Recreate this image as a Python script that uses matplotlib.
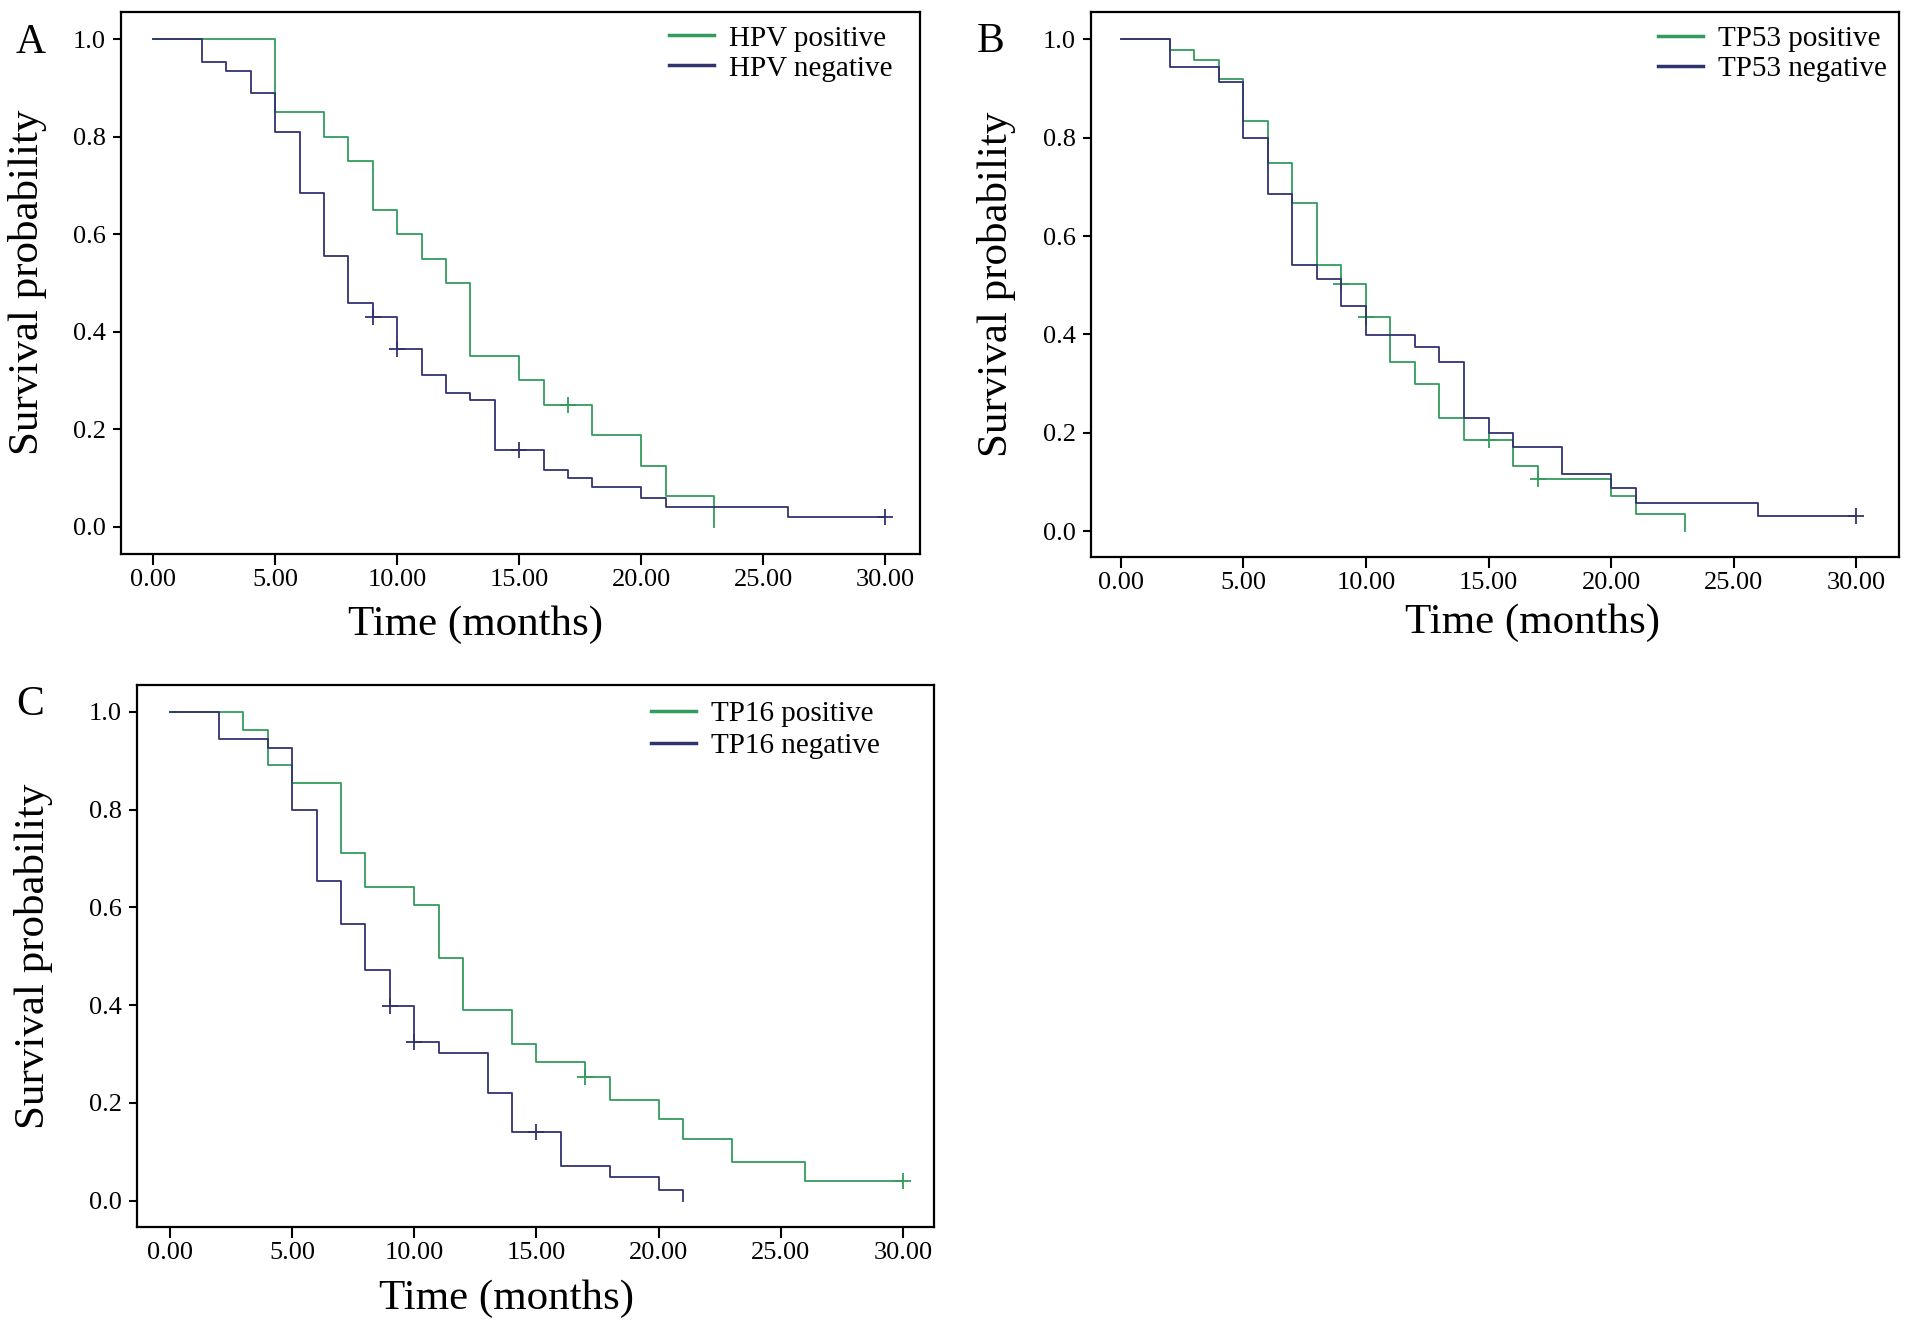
import numpy as np
import matplotlib
matplotlib.use("Agg")
import matplotlib.pyplot as plt

plt.rcParams['font.family'] = ['Liberation Serif', 'DejaVu Serif']

GREEN = '#339c5c'
NAVY = '#31336f'

# ---- panel A : HPV ----
hpv_pos_t = [0, 5, 7, 8, 9, 10, 11, 12, 13, 15, 16, 18, 20, 21, 23]
hpv_pos_s = [1.0, 0.85, 0.80, 0.75, 0.65, 0.60, 0.55, 0.50, 0.35, 0.30, 0.25, 0.1875, 0.125, 0.0625, 0.0]
hpv_pos_end = 23
hpv_pos_cens = [17]

hpv_neg_t = [0, 2, 3, 4, 5, 6, 7, 8, 9, 10, 11, 12, 13, 14, 16, 17, 18, 20, 21, 26]
hpv_neg_s = [1.0, 0.952, 0.934, 0.89, 0.81, 0.684, 0.555, 0.459, 0.43, 0.364, 0.311, 0.275, 0.26,
             0.158, 0.116, 0.099, 0.081, 0.059, 0.040, 0.021]
hpv_neg_end = 30
hpv_neg_cens = [9, 10, 15, 30]

# ---- panel B : TP53 ----
tp53_pos_t = [0, 2, 3, 4, 5, 6, 7, 8, 9, 10, 11, 12, 13, 14, 16, 17, 20, 21, 23]
tp53_pos_s = [1.0, 0.978, 0.958, 0.92, 0.833, 0.749, 0.668, 0.542, 0.503, 0.436, 0.344, 0.299, 0.230,
              0.185, 0.132, 0.105, 0.072, 0.034, 0.0]
tp53_pos_end = 23
tp53_pos_cens = [9, 10, 15, 17]

tp53_neg_t = [0, 2, 4, 5, 6, 7, 8, 9, 10, 12, 13, 14, 15, 16, 18, 20, 21, 26]
tp53_neg_s = [1.0, 0.944, 0.914, 0.80, 0.686, 0.542, 0.513, 0.457, 0.399, 0.374, 0.344, 0.230, 0.20,
              0.171, 0.115, 0.087, 0.056, 0.030]
tp53_neg_end = 30
tp53_neg_cens = [30]

# ---- panel C : TP16 ----
tp16_pos_t = [0, 3, 4, 5, 7, 8, 10, 11, 12, 14, 15, 17, 18, 20, 21, 23, 26]
tp16_pos_s = [1.0, 0.962, 0.892, 0.854, 0.712, 0.642, 0.605, 0.497, 0.391, 0.32, 0.284, 0.252, 0.206,
              0.166, 0.126, 0.080, 0.040]
tp16_pos_end = 30
tp16_pos_cens = [17, 30]

tp16_neg_t = [0, 2, 4, 5, 6, 7, 8, 9, 10, 11, 13, 14, 16, 18, 20, 21]
tp16_neg_s = [1.0, 0.944, 0.927, 0.80, 0.653, 0.565, 0.472, 0.399, 0.324, 0.302, 0.221, 0.140, 0.071,
              0.049, 0.022, 0.0]
tp16_neg_end = 21
tp16_neg_cens = [9, 10, 15]

xticks = [0, 5, 10, 15, 20, 25, 30]
yticks = [0.0, 0.2, 0.4, 0.6, 0.8, 1.0]


def km(ax, t, s, end, cens, color, label):
    tt = list(t) + [end]
    ss = list(s) + [s[-1]]
    ax.step(tt, ss, where='post', color=color, lw=1.3, label=label)
    ta = np.array(t)
    cy = [s[np.searchsorted(ta, c, side='right') - 1] for c in cens]
    ax.plot(cens, cy, ls='none', marker='+', ms=11, mew=1.3, color=color)


def style(ax, xlim, ylim, ylab_x, xlab_pos):
    ax.set_xlim(*xlim)
    ax.set_ylim(*ylim)
    ax.set_xticks(xticks)
    ax.set_xticklabels(['%.2f' % v for v in xticks])
    ax.set_yticks(yticks)
    ax.set_yticklabels(['%.1f' % v for v in yticks])
    for sp in ax.spines.values():
        sp.set_linewidth(1.6)
    ax.tick_params(axis='x', direction='out', length=8, width=1.5, labelsize=19, pad=3)
    ax.tick_params(axis='y', direction='out', length=6, width=1.5, labelsize=19, pad=5)
    ax.set_ylabel('Survival probability', fontsize=31)
    ax.yaxis.set_label_coords(ylab_x, 0.5)
    ax.set_xlabel('Time (months)', fontsize=31)
    ax.xaxis.set_label_coords(*xlab_pos)


fig = plt.figure(figsize=(19.13, 13.33), dpi=100)

axA = fig.add_axes([0.0633, 0.5847, 0.4177, 0.4065])
km(axA, hpv_pos_t, hpv_pos_s, hpv_pos_end, hpv_pos_cens, GREEN, 'HPV positive')
km(axA, hpv_neg_t, hpv_neg_s, hpv_neg_end, hpv_neg_cens, NAVY, 'HPV negative')
style(axA, (-1.31, 31.43), (-0.055, 1.056), -0.093, (0.443, -0.095))

axB = fig.add_axes([0.5703, 0.5821, 0.4224, 0.4090])
km(axB, tp53_pos_t, tp53_pos_s, tp53_pos_end, tp53_pos_cens, GREEN, 'TP53 positive')
km(axB, tp53_neg_t, tp53_neg_s, tp53_neg_end, tp53_neg_cens, NAVY, 'TP53 negative')
style(axB, (-1.22, 31.75), (-0.053, 1.056), -0.093, (0.546, -0.086))

axC = fig.add_axes([0.0715, 0.0795, 0.4168, 0.4063])
km(axC, tp16_pos_t, tp16_pos_s, tp16_pos_end, tp16_pos_cens, GREEN, 'TP16 positive')
km(axC, tp16_neg_t, tp16_neg_s, tp16_neg_end, tp16_neg_cens, NAVY, 'TP16 negative')
style(axC, (-1.36, 31.28), (-0.054, 1.054), -0.105, (0.464, -0.097))

for ax, anchor, sp in [(axA, (0.965, 0.975), 0.12), (axB, (0.985, 0.975), 0.12),
                       (axC, (0.932, 0.972), 0.2)]:
    leg = ax.legend(loc='upper right', bbox_to_anchor=anchor, frameon=False, fontsize=21,
                    handlelength=1.55, handletextpad=0.5, labelspacing=sp,
                    borderpad=0, borderaxespad=0)
    for h in leg.get_lines():
        h.set_linewidth(2.5)

fig.text(31 / 1913, 1 - 53 / 1333, 'A', fontsize=30, ha='center', va='baseline')
fig.text(991 / 1913, 1 - 52 / 1333, 'B', fontsize=30, ha='center', va='baseline')
fig.text(30 / 1913, 1 - 715 / 1333, 'C', fontsize=30, ha='center', va='baseline')

fig.savefig('out.png', dpi=100)
